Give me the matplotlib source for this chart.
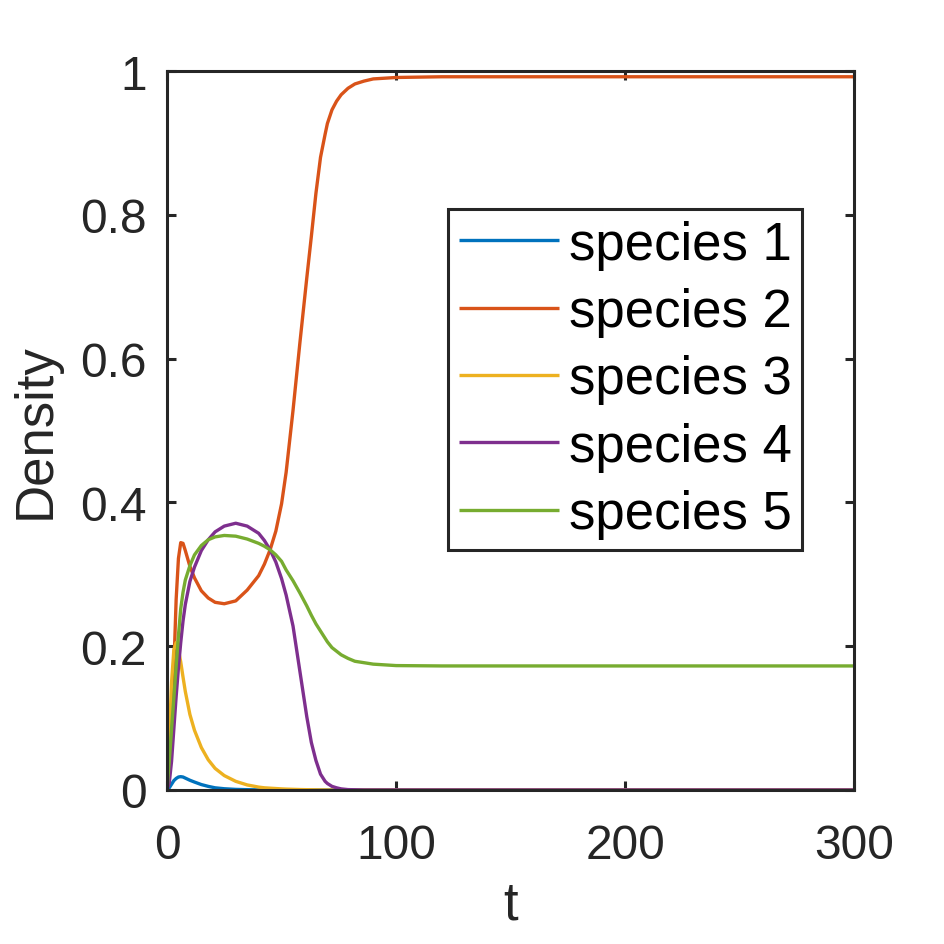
"""
Density of five species over time (MATLAB-style figure)
"""

import matplotlib
matplotlib.use("Agg")
import matplotlib.pyplot as plt

# time points
t = [0, 1, 2, 3, 4, 5, 6, 7, 8, 10, 12, 15, 18, 21, 25, 30, 35, 40, 42.5,
     45, 47.5, 50, 52, 55, 58, 61, 63, 65, 67, 69, 70, 72, 74, 76, 79, 82,
     86, 90, 95, 100, 120, 150, 200, 300]

species1 = [0, 0.003, 0.008, 0.013, 0.016, 0.018, 0.0185, 0.018, 0.0165,
            0.0135, 0.011, 0.0075, 0.005, 0.003, 0.0017, 0.0008, 0.0004,
            0.0002, 0.0001, 0.0001, 0, 0, 0, 0, 0, 0, 0, 0, 0, 0, 0, 0, 0,
            0, 0, 0, 0, 0, 0, 0, 0, 0, 0, 0]
species2 = [0, 0.025, 0.08, 0.17, 0.265, 0.322, 0.344, 0.343, 0.333, 0.311,
            0.295, 0.277, 0.267, 0.261, 0.259, 0.263, 0.278, 0.298, 0.314,
            0.334, 0.360, 0.398, 0.442, 0.528, 0.622, 0.712, 0.770, 0.830,
            0.880, 0.912, 0.927, 0.946, 0.958, 0.967, 0.976, 0.982, 0.986,
            0.989, 0.990, 0.991, 0.992, 0.992, 0.992, 0.992]
species3 = [0, 0.07, 0.15, 0.195, 0.205, 0.195, 0.178, 0.157, 0.137, 0.105,
            0.083, 0.059, 0.042, 0.030, 0.020, 0.012, 0.007, 0.004, 0.003,
            0.0025, 0.002, 0.0015, 0.0012, 0.0009, 0.0006, 0.0004, 0.0003,
            0.0002, 0.0001, 0.0001, 0, 0, 0, 0, 0, 0, 0, 0, 0, 0, 0, 0, 0, 0]
species4 = [0, 0.01, 0.04, 0.085, 0.13, 0.17, 0.205, 0.235, 0.258, 0.29,
            0.31, 0.333, 0.348, 0.359, 0.367, 0.371, 0.367, 0.357, 0.347,
            0.334, 0.317, 0.294, 0.271, 0.228, 0.165, 0.102, 0.066, 0.041,
            0.022, 0.012, 0.009, 0.005, 0.003, 0.0015, 0.0005, 0.0003, 0, 0,
            0, 0, 0, 0, 0, 0]
species5 = [0, 0.04, 0.085, 0.128, 0.172, 0.215, 0.252, 0.275, 0.292, 0.312,
            0.327, 0.340, 0.348, 0.352, 0.354, 0.353, 0.349, 0.343, 0.339,
            0.334, 0.327, 0.318, 0.306, 0.291, 0.274, 0.256, 0.243, 0.231,
            0.221, 0.211, 0.206, 0.198, 0.193, 0.188, 0.183, 0.179, 0.177,
            0.175, 0.174, 0.173, 0.1725, 0.1725, 0.1725, 0.1725]

labels = ["species 1", "species 2", "species 3", "species 4", "species 5"]
colors = ["#0072BD", "#D95319", "#EDB120", "#7E2F8E", "#77AC30"]
xticks = [0, 100, 200, 300]
yticks = [0, 0.2, 0.4, 0.6, 0.8, 1]
yticklabels = ["0", "0.2", "0.4", "0.6", "0.8", "1"]

plt.rcParams['font.family'] = ['Liberation Sans', 'DejaVu Sans']
dark = "#262626"

fig = plt.figure(figsize=(9.45, 9.45), dpi=100)
ax = fig.add_axes([0.1767, 0.1630, 0.7275, 0.7608])

for ys, lab, col in zip([species1, species2, species3, species4, species5],
                        labels, colors):
    ax.plot(t, ys, color=col, lw=2.4, label=lab, solid_capstyle='butt')

ax.set_xlim(0, 300)
ax.set_ylim(0, 1)
ax.set_xticks(xticks)
ax.set_yticks(yticks)
ax.set_yticklabels(yticklabels)

for sp in ax.spines.values():
    sp.set_linewidth(2.2)
    sp.set_color(dark)

ax.tick_params(axis='both', direction='in', length=6.5, width=2.2,
               colors=dark, labelsize=34.5, top=True, right=True)
ax.tick_params(axis='x', pad=24)
ax.tick_params(axis='y', pad=14.5)

ax.set_xlabel('t', fontsize=38, color=dark, labelpad=8)
ax.set_ylabel('Density', fontsize=38, color=dark, labelpad=14)

leg = ax.legend(loc='upper right', bbox_to_anchor=(0.924, 0.808),
                borderaxespad=0, fontsize=38, handlelength=1.89,
                handletextpad=0.19, labelspacing=0.33, borderpad=0.2,
                fancybox=False, framealpha=1, edgecolor=dark)
leg.get_frame().set_linewidth(2.2)
for line in leg.get_lines():
    line.set_linewidth(2.4)

fig.savefig("out.png", dpi=100)
